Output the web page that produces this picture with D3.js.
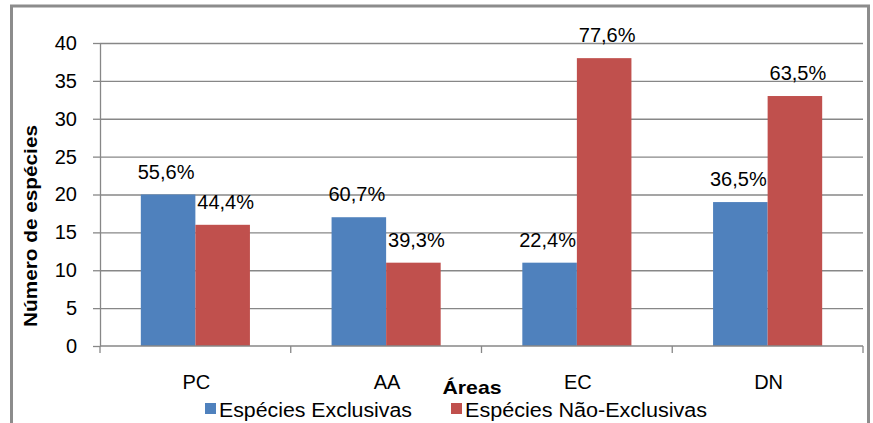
<!DOCTYPE html>
<html>
<head>
<meta charset="utf-8">
<script src="https://cdn.jsdelivr.net/npm/d3@7"></script>
<style>
  html, body { margin: 0; padding: 0; background: #ffffff; }
  svg { display: block; }
  text { font-family: "Liberation Sans", Arial, sans-serif; fill: #000; }
</style>
</head>
<body>
<svg id="chart" width="873" height="423"></svg>
<script>
// Species counts per area
const categories = ["PC", "AA", "EC", "DN"];
const exclusivas = [20, 17, 11, 19];
const naoExclusivas = [16, 11, 38, 33];
const pctExclusivas = ["55,6%", "60,7%", "22,4%", "36,5%"];
const pctNaoExclusivas = ["44,4%", "39,3%", "77,6%", "63,5%"];
const yTicks = [0, 5, 10, 15, 20, 25, 30, 35, 40];
const seriesNames = ["Espécies Exclusivas", "Espécies Não-Exclusivas"];
const colors = ["#4F81BD", "#C0504D"];
const gridColor = "#878787";

const svg = d3.select("#chart");

// Outer frame
svg.append("rect")
  .attr("x", 11.5).attr("y", 6)
  .attr("width", 857).attr("height", 440)
  .attr("fill", "none")
  .attr("stroke", "#8c8c8c")
  .attr("stroke-width", 3);

const plotLeft = 100, plotRight = 863, plotTop = 43, plotBottom = 346;

const x = d3.scaleBand().domain(categories).range([plotLeft, plotRight]).padding(0);
const y = d3.scaleLinear().domain([0, 40]).range([plotBottom, plotTop]);

// Horizontal gridlines
const grid = svg.append("g")
  .attr("transform", `translate(${plotLeft},0)`)
  .call(d3.axisLeft(y).tickValues(yTicks.filter(d => d > 0)).tickSize(-(plotRight - plotLeft)).tickFormat(""));
grid.select(".domain").remove();
grid.selectAll("line").attr("stroke", gridColor).attr("stroke-width", 1.3);

// Y axis with labels
const yAxis = svg.append("g")
  .attr("transform", `translate(${plotLeft},0)`)
  .call(d3.axisLeft(y).tickValues(yTicks).tickSize(7).tickPadding(16).tickSizeOuter(0));
yAxis.select(".domain").attr("stroke", gridColor).attr("stroke-width", 1.3);
yAxis.selectAll("line").attr("stroke", gridColor).attr("stroke-width", 1.3);
yAxis.selectAll("text")
  .style("font-family", "'Liberation Sans', Arial, sans-serif")
  .style("font-size", "20px").attr("fill", "#000");

// Bars with percentage labels
const bw = x.bandwidth() * 0.286;
const groups = svg.append("g");
categories.forEach((c, i) => {
  const cx = x(c) + x.bandwidth() / 2;
  const vals = [exclusivas[i], naoExclusivas[i]];
  const pcts = [pctExclusivas[i], pctNaoExclusivas[i]];
  vals.forEach((v, s) => {
    const bx = s === 0 ? cx - bw : cx;
    groups.append("rect")
      .attr("x", bx).attr("y", y(v))
      .attr("width", bw).attr("height", y(0) - y(v))
      .attr("fill", colors[s]);
    groups.append("text")
      .attr("x", bx + bw / 2 + (s === 0 ? -2 : 3))
      .attr("y", y(v) - 16)
      .attr("text-anchor", "middle")
      .style("font-size", "20px")
      .text(pcts[s]);
  });
});

// X axis baseline and category separators
svg.append("line")
  .attr("x1", plotLeft).attr("x2", plotRight)
  .attr("y1", y(0)).attr("y2", y(0))
  .attr("stroke", gridColor).attr("stroke-width", 1.3);
const bounds = [x(categories[0])].concat(categories.map(c => x(c) + x.bandwidth()));
svg.selectAll(".xtick").data(bounds).enter().append("line")
  .attr("x1", d => d).attr("x2", d => d)
  .attr("y1", y(0)).attr("y2", y(0) + 7)
  .attr("stroke", gridColor).attr("stroke-width", 1.3);

svg.selectAll(".xlabel").data(categories).enter().append("text")
  .attr("x", d => x(d) + x.bandwidth() / 2 + 1)
  .attr("y", 389)
  .attr("text-anchor", "middle")
  .style("font-size", "20px")
  .text(d => d);

// Axis titles
svg.append("text")
  .attr("x", 472).attr("y", 394)
  .attr("text-anchor", "middle")
  .attr("textLength", 59).attr("lengthAdjust", "spacingAndGlyphs")
  .style("font-size", "19px").style("font-weight", "bold")
  .text("Áreas");

svg.append("text")
  .attr("transform", "translate(37,226) rotate(-90)")
  .attr("text-anchor", "middle")
  .attr("textLength", 202).attr("lengthAdjust", "spacingAndGlyphs")
  .style("font-size", "19px").style("font-weight", "bold")
  .text("Número de espécies");

// Legend
const legendX = [205, 451];
const legendW = [193, 242];
seriesNames.forEach((name, s) => {
  svg.append("rect")
    .attr("x", legendX[s]).attr("y", 403)
    .attr("width", 11).attr("height", 11)
    .attr("fill", colors[s]);
  svg.append("text")
    .attr("x", legendX[s] + 14).attr("y", 417)
    .attr("textLength", legendW[s]).attr("lengthAdjust", "spacingAndGlyphs")
    .style("font-size", "20px")
    .text(name);
});
</script>
</body>
</html>
